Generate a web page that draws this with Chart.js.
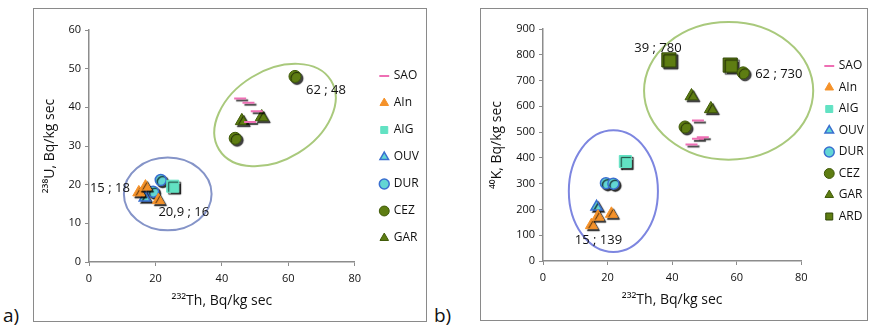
<!DOCTYPE html>
<html>
<head>
<meta charset="utf-8">
<script src="https://cdn.jsdelivr.net/npm/chart.js@4.4.1/dist/chart.umd.min.js"></script>
<style>
  body { margin: 0; background: #fff; font-family: "Open Sans", sans-serif; }
  .box { position: absolute; border: 1px solid #8a8a8a; background: #fff; }
  .tag { position: absolute; font-size: 19px; color: #111; }
</style>
</head>
<body>
<div class="box" style="left:33px;top:8px;width:392px;height:312px"><canvas id="chartA" width="392" height="312"></canvas></div>
<div class="box" style="left:480px;top:8px;width:386px;height:311px"><canvas id="chartB" width="386" height="311"></canvas></div>
<div class="tag" style="left:3px;top:302px">a)</div>
<div class="tag" style="left:434px;top:302px">b)</div>
<script>
// chart a) : 232Th vs 238U
var saoTh = [45.5, 48, 50.5, 48.5],   saoU = [42.3, 41.2, 39, 36.2];
var ainTh = [15, 17, 20.9],           ainU = [18, 19.5, 16];
var aigTh = [25.2],                   aigU = [19.6];
var ouvTh = [16.8],                   ouvU = [16.6];
var durTh = [21.6, 19.3],             durU = [21.2, 18.2];
var cezTh = [62, 44],                 cezU = [48, 32];
var garTh = [46, 52],                 garU = [36.5, 37.5];

// chart b) : 232Th vs 40K
var saoThB = [48, 49.5, 48, 46],      saoK = [545, 480, 474, 452];
var ainThB = [15, 17, 21.2],          ainK = [139, 172, 183];
var aigThB = [25.5],                  aigK = [386];
var ouvThB = [16.6],                  ouvK = [210];
var durThB = [19.5, 21.8],            durK = [302, 300];
var cezThB = [62, 44],                cezK = [730, 520];
var garThB = [46, 52],                garK = [640, 590];
var ardThB = [39, 58],                ardK = [780, 760];

var xTicks = [0, 20, 40, 60, 80];

function pts(xs, ys) {
    return xs.map(function (x, i) { return { x: x, y: ys[i] }; });
}

var colSAO = '#ee6fb4', colAIn = '#f5922a', colAIG = '#62e2c3',
    colOUV = '#62d6d4', colGreen = '#5e7d12';

function series(name, data, style) {
    return {
        label: name, data: data, pointStyle: style.shape,
        pointRadius: style.r, pointHoverRadius: style.r,
        backgroundColor: style.fill, borderColor: style.line || style.fill,
        borderWidth: style.bw || 1, showLine: false
    };
}

var styles = {
    SAO: { shape: 'line', r: 6, fill: colSAO, line: colSAO, bw: 2 },
    AIn: { shape: 'triangle', r: 7, fill: colAIn },
    AIG: { shape: 'rect', r: 8.5, fill: colAIG },
    OUV: { shape: 'triangle', r: 6.5, fill: colOUV, line: '#3a6fd0', bw: 1.5 },
    DUR: { shape: 'circle', r: 5.5, fill: colOUV, line: '#3a6fd0', bw: 1.5 },
    CEZ: { shape: 'circle', r: 6, fill: colGreen, line: '#3f5a08' },
    GAR: { shape: 'triangle', r: 7.5, fill: colGreen, line: '#3f5a08' },
    ARD: { shape: 'rect', r: 10, fill: colGreen, line: '#2f4506' }
};

// soft drop shadow behind markers, like the original figure
var shadowPlugin = {
    id: 'shadow',
    beforeDatasetsDraw: function (chart) {
        var ctx = chart.ctx;
        ctx.save();
        ctx.shadowColor = 'rgba(0,0,0,0.75)';
        ctx.shadowOffsetX = 2;
        ctx.shadowOffsetY = 2;
        ctx.shadowBlur = 1;
    },
    afterDatasetsDraw: function (chart) { chart.ctx.restore(); }
};

// put the legend where the original has it
var legendSpot = {
    id: 'legendSpot',
    beforeDraw: function (chart, args, opts) {
        var lg = chart.legend;
        var w = lg.width;
        lg.left = chart.chartArea.right + opts.gap;
        lg.right = lg.left + w;
        lg.top = opts.top;
    }
};

// ellipses and value notes drawn in data coordinates
var notesPlugin = {
    id: 'notes',
    afterDatasetsDraw: function (chart, args, opts) {
        var ctx = chart.ctx, xs = chart.scales.x, ys = chart.scales.y;
        (opts.ellipses || []).forEach(function (e) {
            var cx = xs.getPixelForValue(e.cx), cy = ys.getPixelForValue(e.cy);
            var rx = Math.abs(xs.getPixelForValue(e.cx + e.rx) - cx);
            var ry = Math.abs(ys.getPixelForValue(e.cy + e.ry) - cy);
            ctx.save();
            ctx.beginPath();
            ctx.ellipse(cx, cy, rx, ry, (e.rot || 0) * Math.PI / 180, 0, Math.PI * 2);
            ctx.strokeStyle = e.color;
            ctx.lineWidth = 2;
            ctx.stroke();
            ctx.restore();
        });
        (opts.labels || []).forEach(function (l) {
            ctx.save();
            ctx.font = '13px "Open Sans"';
            ctx.fillStyle = '#111';
            ctx.textAlign = l.align;
            ctx.textBaseline = 'middle';
            ctx.fillText(l.text, xs.getPixelForValue(l.x) + l.dx, ys.getPixelForValue(l.y) + l.dy);
            ctx.restore();
        });
    }
};

function axisOpts(title, max, step, leftWidth) {
    return {
        x: {
            type: 'linear', min: 0, max: 80,
            afterBuildTicks: function (s) { s.ticks = xTicks.map(function (v) { return { value: v }; }); },
            border: { display: true, color: '#8c8c8c', width: 1.5 },
            grid: { drawOnChartArea: false, drawTicks: true, tickLength: 4, color: '#8c8c8c' },
            ticks: { color: '#111', font: { family: 'Open Sans', size: 11 }, padding: 6 },
            title: { display: true, text: '²³²Th, Bq/kg sec', color: '#111', font: { family: 'Open Sans', size: 14 }, padding: { top: 1 } }
        },
        y: {
            type: 'linear', min: 0, max: max,
            afterFit: function (s) { s.width = leftWidth; },
            border: { display: true, color: '#8c8c8c', width: 1.5 },
            grid: { drawOnChartArea: false, drawTicks: true, tickLength: 4, color: '#8c8c8c' },
            ticks: { stepSize: step, color: '#111', font: { family: 'Open Sans', size: 11 }, padding: 4 },
            title: { display: true, text: title, color: '#111', font: { family: 'Open Sans', size: 14 }, padding: 0 }
        }
    };
}

function legendOpts(pad) {
    return {
        position: 'right', align: 'start',
        labels: {
            usePointStyle: true, boxWidth: 7, boxHeight: 7, padding: pad,
            color: '#111', font: { family: 'Open Sans', size: 12 }
        }
    };
}

new Chart(document.getElementById('chartA'), {
    type: 'scatter',
    data: {
        datasets: [
            series('SAO', pts(saoTh, saoU), styles.SAO),
            series('AIn', pts(ainTh, ainU), styles.AIn),
            series('AIG', pts(aigTh, aigU), styles.AIG),
            series('OUV', pts(ouvTh, ouvU), styles.OUV),
            series('DUR', pts(durTh, durU), styles.DUR),
            series('CEZ', pts(cezTh, cezU), styles.CEZ),
            series('GAR', pts(garTh, garU), styles.GAR)
        ]
    },
    options: {
        responsive: false, animation: false,
        layout: { padding: { left: 8, top: 21, right: 8, bottom: 8 } },
        scales: axisOpts('²³⁸U, Bq/kg sec', 60, 10, 47),
        plugins: {
            legend: legendOpts(15),
            tooltip: { enabled: false },
            legendSpot: { gap: 11, top: 46 },
            notes: {
                ellipses: [
                    { cx: 23.7, cy: 17.6, rx: 13.2, ry: 9.4, rot: 0, color: '#8594c8' },
                    { cx: 56.0, cy: 38.0, rx: 19.8, ry: 11.5, rot: -31.7, color: '#a9c97c' }
                ],
                labels: [
                    { x: 62, y: 48, text: '62 ; 48', dx: 11, dy: 14, align: 'left' },
                    { x: 15, y: 18, text: '15 ; 18', dx: -9, dy: -4, align: 'right' },
                    { x: 20.9, y: 16, text: '20,9 ; 16', dx: 0, dy: 12, align: 'left' }
                ]
            }
        }
    },
    plugins: [shadowPlugin, legendSpot, notesPlugin]
});

new Chart(document.getElementById('chartB'), {
    type: 'scatter',
    data: {
        datasets: [
            series('SAO', pts(saoThB, saoK), styles.SAO),
            series('AIn', pts(ainThB, ainK), styles.AIn),
            series('AIG', pts(aigThB, aigK), styles.AIG),
            series('OUV', pts(ouvThB, ouvK), styles.OUV),
            series('DUR', pts(durThB, durK), styles.DUR),
            series('CEZ', pts(cezThB, cezK), styles.CEZ),
            series('GAR', pts(garThB, garK), styles.GAR),
            series('ARD', pts(ardThB, ardK), styles.ARD)
        ]
    },
    options: {
        responsive: false, animation: false,
        layout: { padding: { left: 8, top: 20, right: 8, bottom: 8 } },
        scales: axisOpts('⁴⁰K, Bq/kg sec', 900, 100, 54),
        plugins: {
            legend: legendOpts(9.5),
            tooltip: { enabled: false },
            legendSpot: { gap: 15, top: 41.5 },
            notes: {
                ellipses: [
                    { cx: 21.8, cy: 271, rx: 13.8, ry: 236, rot: 0, color: '#7d86e0' },
                    { cx: 57.5, cy: 660, rx: 26.2, ry: 267, rot: 0, color: '#a9c97c' }
                ],
                labels: [
                    { x: 39, y: 780, text: '39 ; 780', dx: -11, dy: -12, align: 'center' },
                    { x: 62, y: 730, text: '62 ; 730', dx: 12, dy: 1, align: 'left' },
                    { x: 15, y: 139, text: '15 ; 139', dx: 7, dy: 15, align: 'center' }
                ]
            }
        }
    },
    plugins: [shadowPlugin, legendSpot, notesPlugin]
});
</script>
</body>
</html>
